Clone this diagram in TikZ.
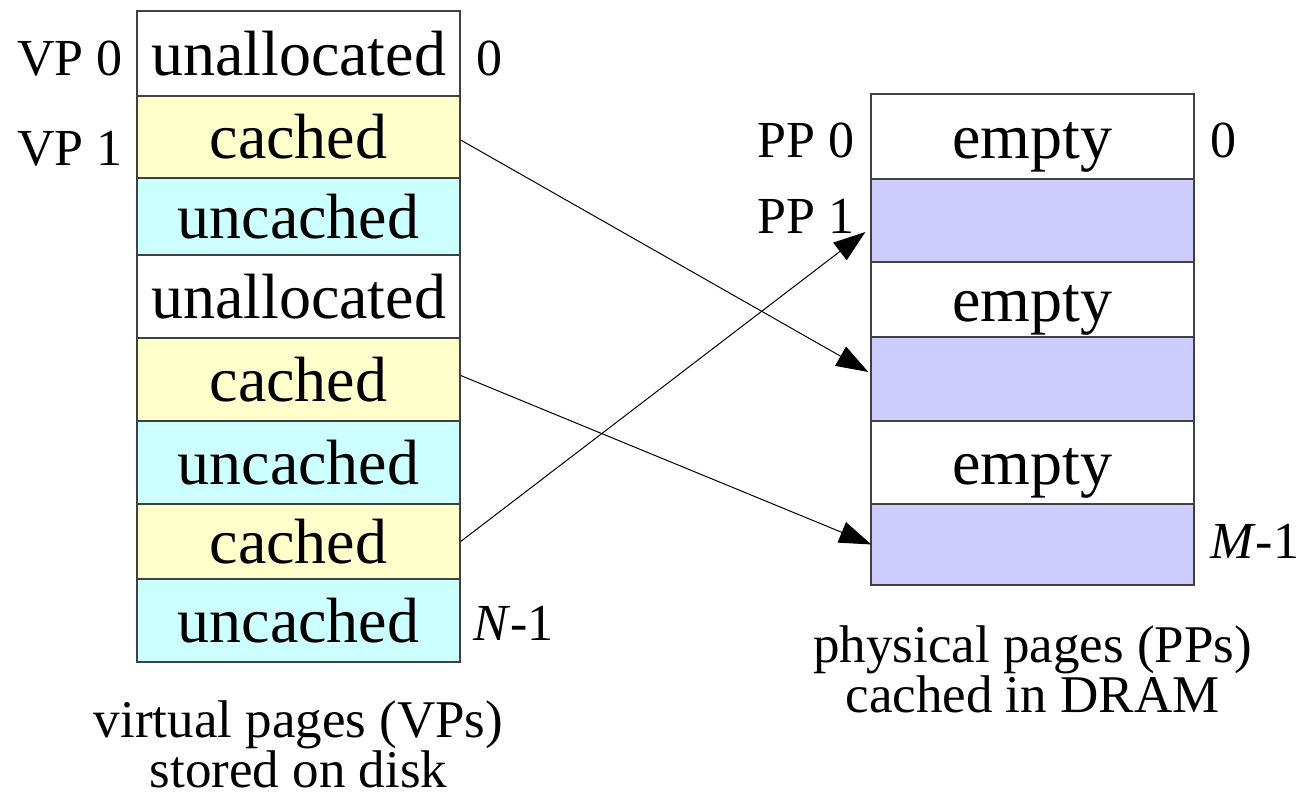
\documentclass[tikz,border=0pt]{standalone}
\usepackage{fontspec}
\setmainfont{Liberation Serif}
\usetikzlibrary{arrows.meta}

\definecolor{vpcached}{HTML}{FFFFCC}
\definecolor{vpuncached}{HTML}{CCFFFF}
\definecolor{ppused}{HTML}{CCCCFF}
\definecolor{frame}{HTML}{404040}

\tikzset{
  page/.style={draw=frame, line width=1.3pt, minimum width=323pt, inner sep=0pt,
    font=\fontsize{64}{70}\selectfont, text height=57pt, text depth=14pt},
  lbl/.style={font=\fontsize{52}{60}\selectfont, inner sep=0pt},
  caption/.style={font=\fontsize{53}{48}\selectfont, inner sep=0pt, align=center,
    anchor=north, text depth=0pt},
  map/.style={-{Triangle[length=32pt,width=22pt]}, line width=1pt, draw=black},
}

\begin{document}
\begin{tikzpicture}[x=1pt, y=-1pt]
\useasboundingbox (0,0) rectangle (1299,801);

% virtual pages on disk
\node[page, fill=white,      minimum height=85pt] (v0) at (298.5,53.5)  {unallocated};
\node[page, fill=vpcached,   minimum height=82pt] (v1) at (298.5,137)   {cached};
\node[page, fill=vpuncached, minimum height=77pt] (v2) at (298.5,216.5) {uncached};
\node[page, fill=white,      minimum height=83pt] (v3) at (298.5,296.5) {unallocated};
\node[page, fill=vpcached,   minimum height=83pt] (v4) at (298.5,379.5) {cached};
\node[page, fill=vpuncached, minimum height=83pt] (v5) at (298.5,462.5) {uncached};
\node[page, fill=vpcached,   minimum height=75pt] (v6) at (298.5,541.5) {cached};
\node[page, fill=vpuncached, minimum height=83pt] (v7) at (298.5,620.5) {uncached};

% physical pages in DRAM
\node[page, fill=white,   minimum height=85pt] (p0) at (1032.5,136.5) {empty};
\node[page, fill=ppused,  minimum height=83pt] (p1) at (1032.5,220.5) {};
\node[page, fill=white,   minimum height=75pt] (p2) at (1032.5,299.5) {empty};
\node[page, fill=ppused,  minimum height=84pt] (p3) at (1032.5,379)   {};
\node[page, fill=white,   minimum height=83pt] (p4) at (1032.5,462.5) {empty};
\node[page, fill=ppused,  minimum height=81pt] (p5) at (1032.5,544.5) {};

% index labels
\node[lbl, anchor=base east] (vp0)  at (123,75)   {VP 0};
\node[lbl, anchor=base east] (vp1)  at (123,165)  {VP 1};
\node[lbl, anchor=base west] (vfst) at (476,75)   {0};
\node[lbl, anchor=base west] (vlst) at (473,640)  {\textit{N}-1};
\node[lbl, anchor=base east] (pp0)  at (855,157)  {PP 0};
\node[lbl, anchor=base east] (pp1)  at (855,233)  {PP 1};
\node[lbl, anchor=base west] (pfst) at (1210,157) {0};
\node[lbl, anchor=base west] (plst) at (1210,558) {\textit{M}-1};

% captions below each column
\node[caption] (vcap) at (298.5,701)  {virtual pages (VPs)\\stored on disk};
\node[caption] (pcap) at (1032.5,626) {physical pages (PPs)\\cached in DRAM};

% mappings from cached virtual pages to physical pages
\draw[map] ([yshift=-3pt]v1.east) -- ([xshift=-2pt,yshift=7pt]p3.west);
\draw[map] ([yshift=4pt]v4.east)  -- ([xshift=1pt]p5.west);
\draw[map] (v6.east) -- ([xshift=-5pt,yshift=-11.5pt]p1.west);
\end{tikzpicture}
\end{document}
